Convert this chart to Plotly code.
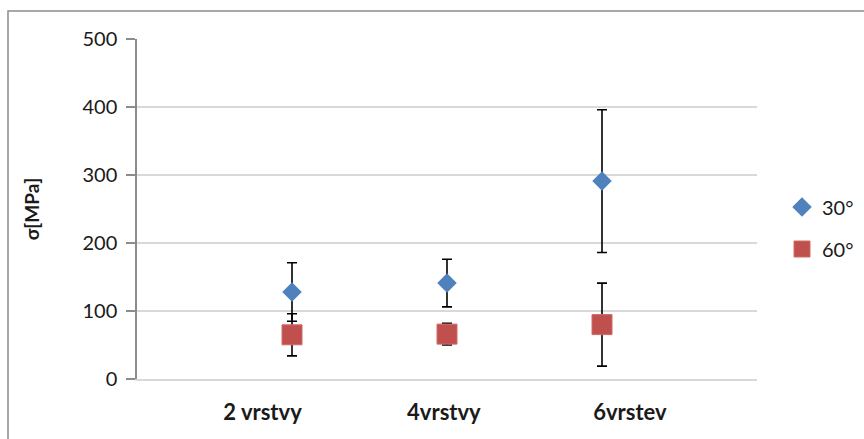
import plotly.graph_objects as go

# Categories (number of layers) and their positions on the x axis
categories = ["2 vrstvy", "4vrstvy", "6vrstev"]
positions = [1, 2, 3]

# Mean strength and spread [MPa] for each fibre angle
sigma_30 = [128, 141, 291]
err_30 = [43, 35, 105]
sigma_60 = [65, 66, 80]
err_60 = [31, 16, 61]

y_ticks = [0, 100, 200, 300, 400, 500]

FONT = "Lato"
TEXT = "#1a1a1a"

# Category captions sit on their own anchors along the axis
CAPTION_X = [0.81, 1.98, 3.18]

fig = go.Figure()

fig.add_trace(go.Scatter(
    x=positions, y=sigma_30, mode="markers", name="30°",
    legendgroup="a",
    marker=dict(symbol="diamond", size=15, color="#4F81BD",
                line=dict(width=0)),
    error_y=dict(type="data", array=err_30, visible=True,
                 color="#000000", thickness=1.6, width=5),
))
fig.add_trace(go.Scatter(
    x=positions, y=sigma_60, mode="markers", name="60°",
    legendgroup="b",
    marker=dict(symbol="square", size=20, color="#C0504D",
                line=dict(width=1, color="#CF6A67")),
    error_y=dict(type="data", array=err_60, visible=True,
                 color="#000000", thickness=1.6, width=5),
))

L, R, T, B = 137, 757, 39, 379
W, H = 864, 439

fig.update_layout(
    width=W, height=H,
    margin=dict(l=L, r=W - R, t=T, b=H - B, pad=0, autoexpand=False),
    paper_bgcolor="white", plot_bgcolor="white",
    font=dict(family=FONT, size=20, color=TEXT),
    showlegend=True,
    legend=dict(
        x=(782 - L) / (R - L), xanchor="left",
        y=(B - 228) / (B - T), yanchor="middle",
        font=dict(family=FONT, size=20, color=TEXT),
        tracegroupgap=13, itemwidth=30,
        bgcolor="rgba(0,0,0,0)",
    ),
    xaxis=dict(
        range=[0, 4], tickmode="array", tickvals=CAPTION_X,
        ticktext=categories, showgrid=False, zeroline=False,
        showline=True, linecolor="#d9d9d9", linewidth=1.5,
        ticks="", ticklabelstandoff=13,
        tickfont=dict(family=FONT, size=22, color=TEXT, weight="bold"),
    ),
    yaxis=dict(
        range=[0, 500], tickmode="array", tickvals=y_ticks,
        showgrid=True, gridcolor="#d9d9d9", gridwidth=1.5,
        zeroline=False, showline=True, linecolor="#8c8c8c", linewidth=1.5,
        ticks="outside", ticklen=9, tickcolor="#8c8c8c", tickwidth=1.5,
        ticklabelstandoff=5,
        tickfont=dict(family=FONT, size=20, color=TEXT),
        title=dict(text="σ[MPa]", standoff=38,
                   font=dict(family=FONT, size=19, color=TEXT, weight="bold")),
    ),
    shapes=[dict(
        type="rect", xref="paper", yref="paper", layer="below",
        x0=(8 - L) / (R - L), x1=1.3,
        y0=-0.3, y1=1 + (T - 11) / (B - T),
        line=dict(color="#8c8c8c", width=1.5), fillcolor="rgba(0,0,0,0)",
    )],
)

fig.write_html("out.html")
